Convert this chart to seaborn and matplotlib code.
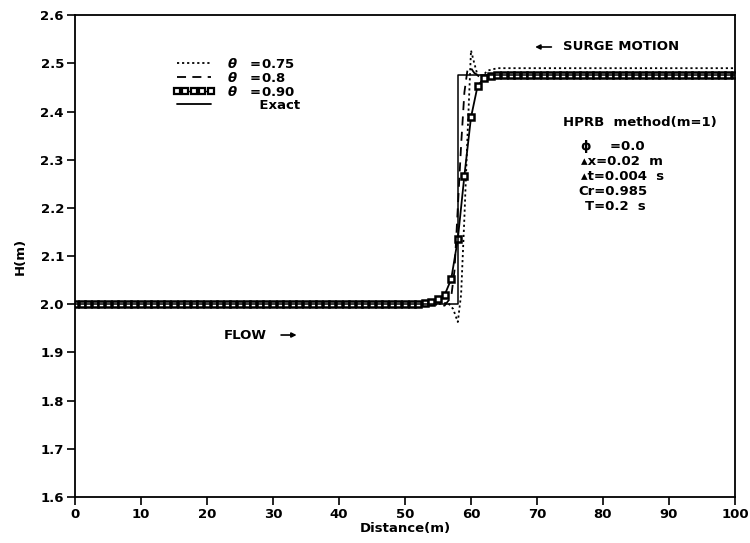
import numpy as np
import pandas as pd
import matplotlib
matplotlib.use("Agg")
import matplotlib.pyplot as plt
import seaborn as sns
from matplotlib.lines import Line2D

# ---- data ----
x90 = list(range(0, 101))
H90 = ([2.0] * 53 +
       [2.002, 2.005, 2.010, 2.019, 2.052, 2.135, 2.267, 2.388, 2.453, 2.470, 2.474] +
       [2.475] * 37)

x80 = [0, 54, 56, 57, 57.5, 58, 58.5, 59, 59.5, 60, 60.5, 61, 62, 100]
H80 = [2.0, 2.0, 1.997, 2.015, 2.07, 2.2, 2.33, 2.44, 2.49, 2.49, 2.48, 2.476, 2.475, 2.475]

x75 = [0, 55, 56.5, 57.3, 58, 58.5, 59, 59.5, 60, 60.5, 61, 61.5, 62.5, 64, 100]
H75 = [2.0, 2.0, 2.003, 1.99, 1.963, 2.02, 2.18, 2.36, 2.527, 2.5, 2.475, 2.47, 2.485, 2.49, 2.49]

xex = [0, 58, 58, 100]
Hex = [2.0, 2.0, 2.475, 2.475]

xticks = [0, 10, 20, 30, 40, 50, 60, 70, 80, 90, 100]
yticks = [1.6, 1.7, 1.8, 1.9, 2.0, 2.1, 2.2, 2.3, 2.4, 2.5, 2.6]

sns.set_style("white")
plt.rcParams['font.family'] = ['DejaVu Sans']
plt.rcParams['font.weight'] = 'bold'
for k in ["text.color", "axes.labelcolor", "xtick.color", "ytick.color", "axes.edgecolor"]:
    plt.rcParams[k] = "black"

fig = plt.figure(figsize=(7.5, 5.43), dpi=100)
ax = fig.add_axes([0.100, 0.085, 0.880, 0.887])

df75 = pd.DataFrame({"x": x75, "H": H75})
df80 = pd.DataFrame({"x": x80, "H": H80})
df90 = pd.DataFrame({"x": x90, "H": H90})
dfex = pd.DataFrame({"x": xex, "H": Hex})

sns.lineplot(data=df75, x="x", y="H", ax=ax, estimator=None, sort=False,
             color="black", lw=1.3, linestyle=(0, (1.2, 1.6)))
sns.lineplot(data=df80, x="x", y="H", ax=ax, estimator=None, sort=False,
             color="black", lw=1.3, linestyle=(0, (5, 3.5)))
sns.lineplot(data=df90, x="x", y="H", ax=ax, estimator=None, sort=False,
             color="black", lw=1.3, marker="s", markersize=4.0,
             markerfacecolor="white", markeredgecolor="black", markeredgewidth=1.8)
sns.lineplot(data=dfex, x="x", y="H", ax=ax, estimator=None, sort=False,
             color="black", lw=1.1)

ax.set_xlim(0, 100)
ax.set_ylim(1.6, 2.6)
ax.set_xticks(xticks)
ax.set_xticklabels([str(t) for t in xticks])
ax.set_yticks(yticks)
ax.set_yticklabels([f"{t:.1f}" for t in yticks])
ax.tick_params(axis="both", direction="out", length=6, width=1.2, labelsize=9.5,
               bottom=True, left=True, top=False, right=False, pad=2)
for s in ax.spines.values():
    s.set_linewidth(1.3)
    s.set_color("black")
ax.set_xlabel("Distance(m)", fontsize=9.5, fontweight="bold", labelpad=1)
ax.set_ylabel("H(m)", fontsize=9.5, fontweight="bold", labelpad=10)

# legend
handles = [
    Line2D([], [], color="black", lw=1.3, linestyle=(0, (1.2, 1.6))),
    Line2D([], [], color="black", lw=1.3, linestyle=(0, (5, 3.5))),
    Line2D([], [], color="black", lw=1.0, marker="s", markersize=4.0,
           markerfacecolor="white", markeredgecolor="black", markeredgewidth=1.6),
    Line2D([], [], color="black", lw=1.3),
]
labels = [r"$\boldsymbol{\theta}$   =0.75", r"$\boldsymbol{\theta}$   =0.8",
          r"$\boldsymbol{\theta}$   =0.90", "       Exact"]
leg = ax.legend(handles, labels, loc="upper left", bbox_to_anchor=(0.14, 0.925),
                frameon=False, fontsize=9.5, handlelength=3.2, handletextpad=0.9,
                labelspacing=0.0, numpoints=5, borderaxespad=0)
for t in leg.get_texts():
    t.set_fontweight("bold")

# annotations
ax.text(73.9, 2.534, "SURGE MOTION", fontsize=9.5, fontweight="bold", va="center", ha="left")
ax.annotate("", xy=(69.3, 2.534), xytext=(72.6, 2.534),
            arrowprops=dict(arrowstyle="-|>", color="black", lw=1.2, mutation_scale=7))
ax.text(22.6, 1.936, "FLOW", fontsize=9.5, fontweight="bold", va="center", ha="left")
ax.annotate("", xy=(34.0, 1.936), xytext=(30.8, 1.936),
            arrowprops=dict(arrowstyle="-|>", color="black", lw=1.2, mutation_scale=7))

ax.text(73.9, 2.378, "HPRB  method(m=1)", fontsize=9.5, fontweight="bold", va="center", ha="left")
ax.text(76.6, 2.328, "\u03d5    =0.0", fontsize=9.5, fontweight="bold", va="center", ha="left")
ax.text(76.6, 2.297, "\u25b4x=0.02  m", fontsize=9.5, fontweight="bold", va="center", ha="left")
ax.text(76.6, 2.266, "\u25b4t=0.004  s", fontsize=9.5, fontweight="bold", va="center", ha="left")
ax.text(76.3, 2.235, "Cr=0.985", fontsize=9.5, fontweight="bold", va="center", ha="left")
ax.text(77.3, 2.202, "T=0.2  s", fontsize=9.5, fontweight="bold", va="center", ha="left")

fig.savefig("out.png", dpi=100)
